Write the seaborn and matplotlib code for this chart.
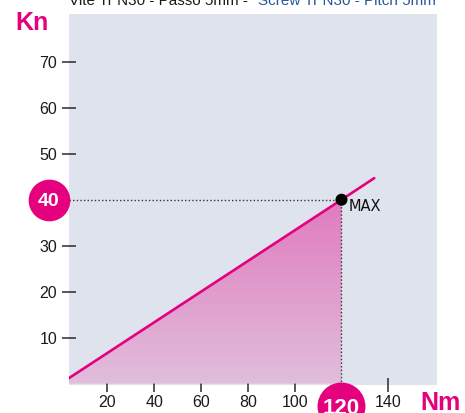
import matplotlib
matplotlib.use("Agg")
import matplotlib.pyplot as plt
import matplotlib.transforms as mtransforms
from matplotlib.colors import LinearSegmentedColormap
import numpy as np
import pandas as pd
import seaborn as sns

# Load line of screw Tr N30, pitch 5 mm: axial force (Kn) vs torque (Nm)
line_nm = [0, 120, 134]
line_kn = [0, 40, 44.7]
max_nm = 120
max_kn = 40
x_ticks = [20, 40, 60, 80, 100, 140]
y_ticks = [10, 20, 30, 50, 60, 70]
title_it = "Vite Tr N30 - Passo 5mm -"
title_en = "Screw Tr N30 - Pitch 5mm"

MAGENTA = "#e5007e"
BG = "#dfe3ee"
DARK = "#2a2a2a"
NARROW = ["Liberation Sans Narrow", "Liberation Sans", "DejaVu Sans"]
BOLD = ["Liberation Sans", "DejaVu Sans"]

sns.set_theme(style="white")
plt.rcParams["font.family"] = NARROW

W, H = 465, 413
fig = plt.figure(figsize=(W / 100, H / 100), dpi=100)
ax = fig.add_axes([69 / W, 1 - 385 / H, (437 - 69) / W, (385 - 14) / H])
ax.set_facecolor(BG)
for s in ax.spines.values():
    s.set_visible(False)

# gradient fill under the load line up to the max point
cmap = LinearSegmentedColormap.from_list("pk", ["#e1bedb", "#e07bbf"])
grad = np.linspace(0, 1, 256).reshape(-1, 1)
img = ax.imshow(grad, cmap=cmap, origin="lower", aspect="auto",
                extent=[0, max_nm, 0, max_kn], zorder=1)
tri = ax.fill_between([0, max_nm], [0, 0], [0, max_kn], color="none", lw=0)
img.set_clip_path(tri.get_paths()[0], transform=ax.transData)
ax.set_xlim(3.6, 160.8)
ax.set_ylim(-0.3, 80.4)

df = pd.DataFrame({"Nm": line_nm, "Kn": line_kn})
sns.lineplot(data=df, x="Nm", y="Kn", ax=ax, color=MAGENTA, lw=1.9, zorder=3)

# dotted guides to the max point
ax.plot([3.6, max_nm], [max_kn, max_kn], color="#333333", lw=1,
        ls=(0, (1, 1.6)), zorder=2)
ax.plot([max_nm, max_nm], [-0.3, max_kn], color="#333333", lw=1,
        ls=(0, (1, 1.6)), zorder=2, clip_on=False)

sns.scatterplot(x=[max_nm], y=[max_kn], ax=ax, color="black", s=75,
                edgecolor="none", zorder=5)
ax.annotate("MAX", xy=(max_nm, max_kn), xytext=(7, -7),
            textcoords="offset pixels", ha="left", va="center",
            fontsize=10.5, family=["DejaVu Sans"], color="#111111")

ax.set_xticks(x_ticks)
ax.set_yticks(y_ticks)
ax.set_xlabel("")
ax.set_ylabel("")
ax.tick_params(axis="both", direction="inout", length=10, width=1.1,
               color=DARK, labelsize=11.5, labelcolor="#1a1a1a")
ax.tick_params(axis="x", pad=2.5)
ax.tick_params(axis="y", pad=3.5)
ax.tick_params(bottom=True, left=True)

# highlighted values in magenta discs
yblend = mtransforms.blended_transform_factory(fig.transFigure, ax.transData)
ax.plot([48.5 / W], [max_kn], transform=yblend, marker="o", ms=30,
        color=MAGENTA, mec="none", clip_on=False, zorder=6)
ax.text(48.5 / W, max_kn, str(max_kn), transform=yblend, ha="center",
        va="center_baseline", fontsize=14, weight="bold", color="white",
        family=BOLD, zorder=7, clip_on=False)

xblend = mtransforms.blended_transform_factory(ax.transData, fig.transFigure)
ax.plot([max_nm], [1 - 406 / H], transform=xblend, marker="o", ms=34.5,
        color=MAGENTA, mec="none", clip_on=False, zorder=6)
ax.text(max_nm, 1 - 406 / H, str(max_nm), transform=xblend, ha="center",
        va="center_baseline", fontsize=16, weight="bold", color="white",
        family=BOLD, zorder=7, clip_on=False)

# axis unit labels
fig.text(15 / W, 1 - 30 / H, "Kn", fontsize=18, weight="bold", color=MAGENTA,
         family=BOLD, va="baseline", ha="left")
fig.text(420 / W, 1 - 410 / H, "Nm", fontsize=18, weight="bold", color=MAGENTA,
         family=BOLD, va="baseline", ha="left")

# bilingual heading
fig.text(69 / W, 1 - 5 / H, title_it, fontsize=11, color="#1a1a1a",
         va="baseline", ha="left")
fig.text(436 / W, 1 - 5 / H, title_en, fontsize=11, color="#2b5797",
         va="baseline", ha="right")

fig.savefig("out.png", dpi=100, facecolor="white")
